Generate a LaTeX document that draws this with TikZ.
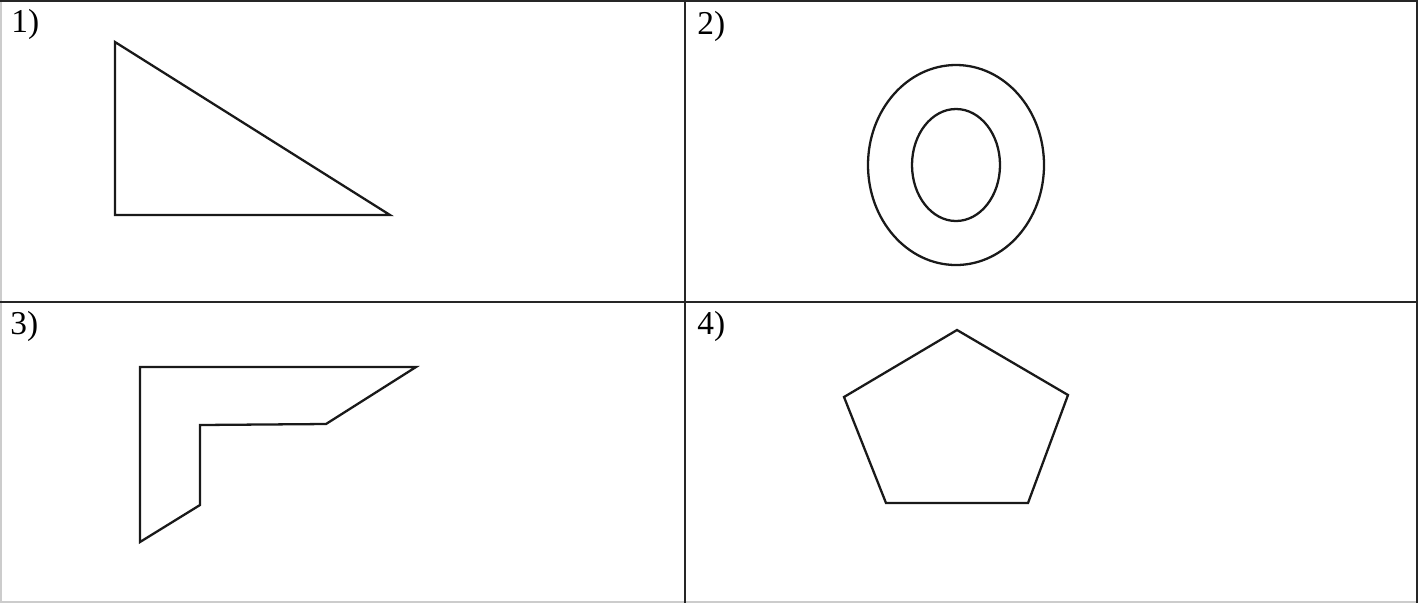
\documentclass[tikz,border=0pt]{standalone}
\usepackage{fontspec}
\setmainfont{Liberation Serif}
\begin{document}
\begin{tikzpicture}[
		x=0.02cm, y=-0.02cm,
		frame/.style={line width=1.6pt, black!85},
		faint/.style={line width=0.8pt, black!20},
		figline/.style={line width=1.3pt, black!90, line join=miter},
		cellnum/.style={anchor=north west, inner sep=0pt, font=\fontsize{19}{21}\selectfont}
	]
	\useasboundingbox (0,0) rectangle (1419,603);
	% frame
	\draw[faint] (1,0) -- (1,602) -- (1417,602);
	\draw[frame] (0,1) -- (1417,1) -- (1417,603);
	\draw[frame] (685,0) -- (685,603);
	\draw[frame] (0,302) -- (1417,302);
	% labels
	\node[cellnum] (n1) at (11,9) {1)};
	\node[cellnum] (n2) at (697,11) {2)};
	\node[cellnum] (n3) at (10,311) {3)};
	\node[cellnum] (n4) at (697,311) {4)};
	% 1) triangle
	\draw[figline] (115,42) -- (115,215) -- (390,215) -- cycle;
	% 2) ring
	\draw[figline] (956,165) ellipse [x radius=88, y radius=100];
	\draw[figline] (956,165) ellipse [x radius=44, y radius=56];
	% 3) corner
	\draw[figline] (140,367) -- (416,367) -- (326,424) -- (200,425)
		-- (200,505) -- (140,542) -- cycle;
	% 4) pentagon
	\draw[figline] (957,330) -- (1068,395) -- (1028,503) -- (886,503)
		-- (844,397) -- cycle;
\end{tikzpicture}
\end{document}
